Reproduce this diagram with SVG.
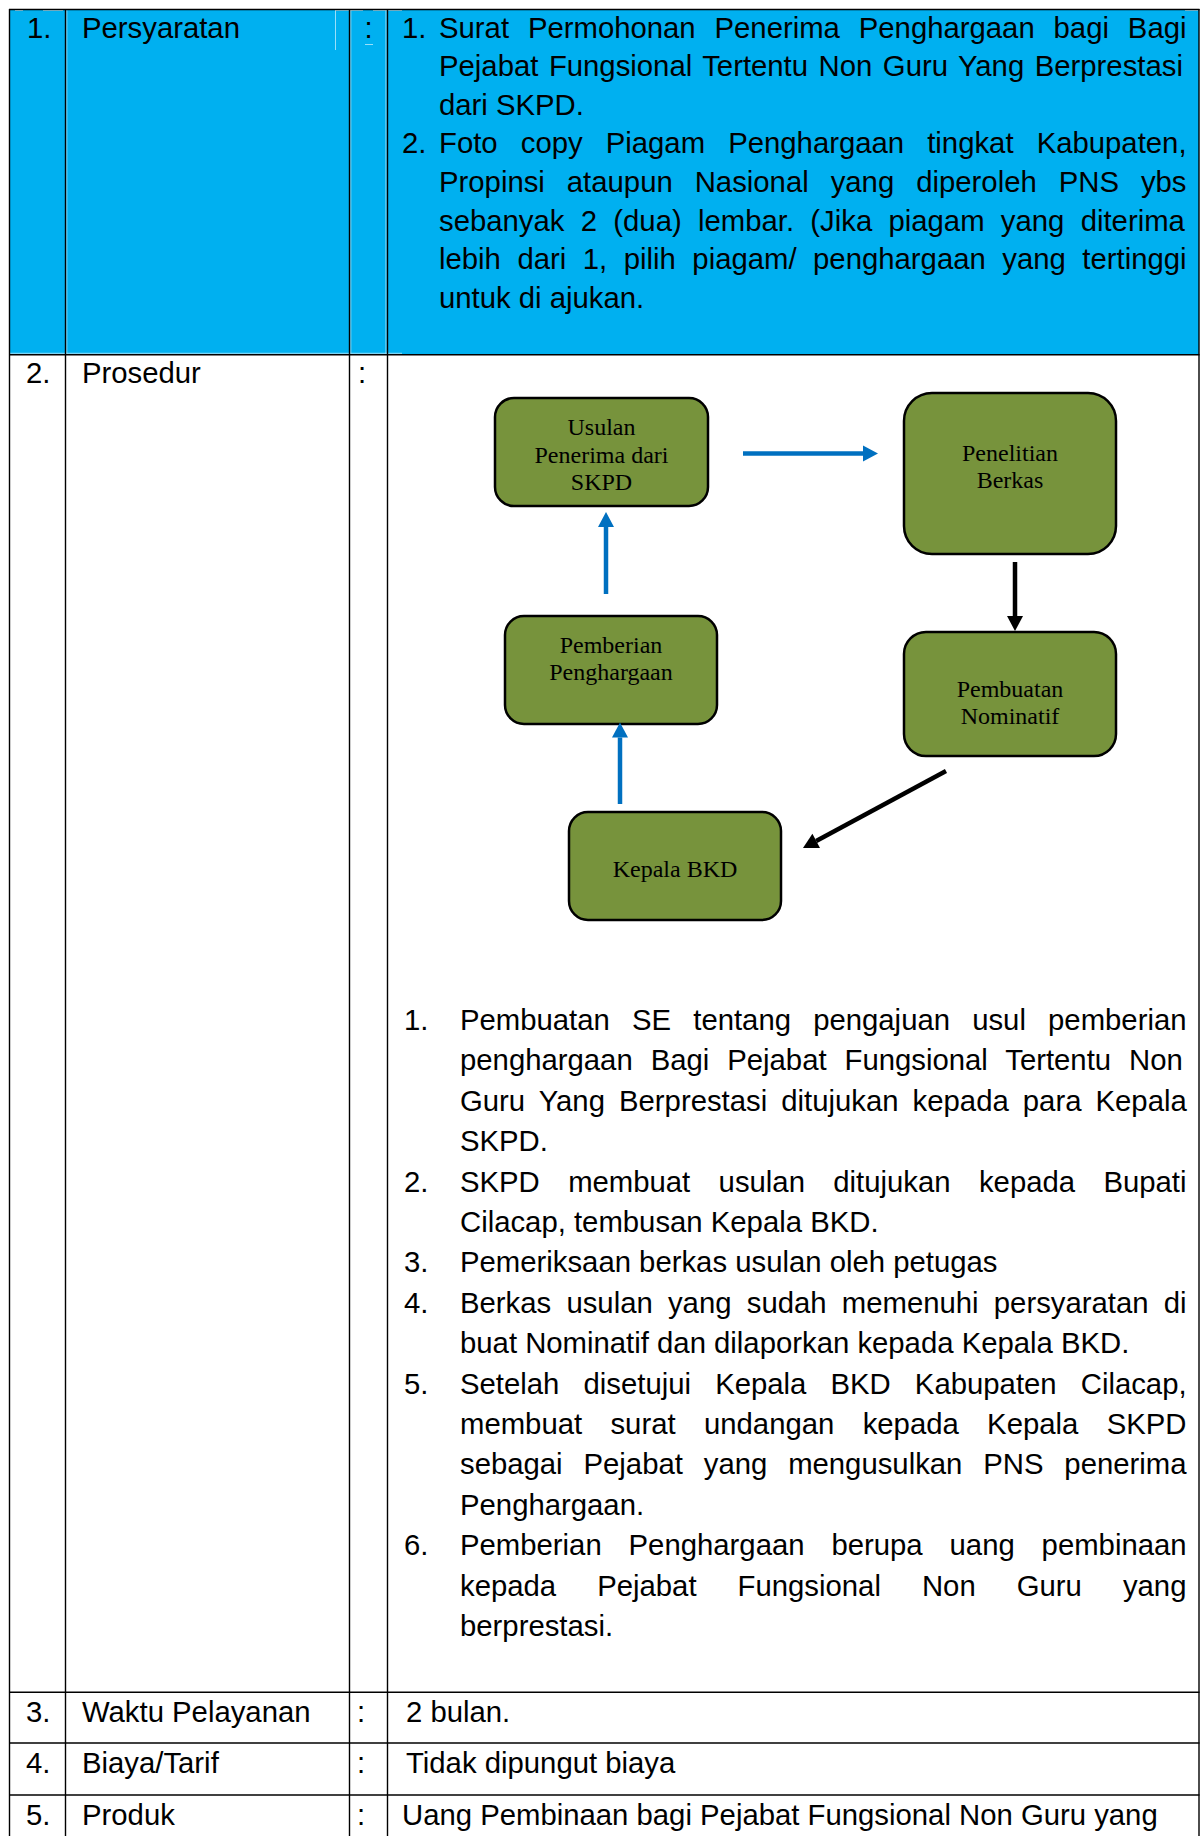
<svg xmlns="http://www.w3.org/2000/svg" width="1202" height="1836" viewBox="0 0 1202 1836">
  <defs>
    <style>
      .t { font-family: "Liberation Sans", Arial, sans-serif; font-size: 29.3px; fill: #000; }
      .grid { stroke: #000; stroke-width: 1.4; fill: none; }
      .gap { stroke: #ffffff; stroke-width: 1; opacity: 0.6; }
      .box { fill: #77933C; stroke: #000; stroke-width: 2.5; }
      .lbl { font-family: "Liberation Serif", "Times New Roman", serif; font-size: 24px; fill: #000; text-anchor: middle; }
      .blue { stroke: #0070C0; stroke-width: 4.5; fill: none; }
      .black { stroke: #000; stroke-width: 4.5; fill: none; }
    </style>
    <marker id="headBlue" markerUnits="userSpaceOnUse" markerWidth="18" markerHeight="18" viewBox="0 -9 16 18" refX="0" refY="0" orient="auto">
      <path d="M0,-8 L15,0 L0,8 Z" fill="#0070C0"/>
    </marker>
    <marker id="headBlack" markerUnits="userSpaceOnUse" markerWidth="18" markerHeight="18" viewBox="0 -9 16 18" refX="0" refY="0" orient="auto">
      <path d="M0,-8 L15,0 L0,8 Z" fill="#000"/>
    </marker>
  </defs>

  <rect width="1202" height="1836" fill="#ffffff"/>

  <!-- table: shaded first row, cell gaps and ruling -->
  <g id="table">
    <rect x="9.5" y="9.5" width="1189.5" height="345" fill="#00B0F0"/>
    <g id="shading-gaps">
      <line class="gap" x1="66.8" y1="10" x2="66.8" y2="353.5"/>
      <line class="gap" x1="335.5" y1="10" x2="335.5" y2="50"/>
      <line class="gap" x1="350.8" y1="10" x2="350.8" y2="353.5"/>
      <line class="gap" x1="386" y1="10" x2="386" y2="353.5"/>
      <line class="gap" x1="15" y1="10.5" x2="23" y2="10.5"/>
      <line class="gap" x1="43" y1="10.5" x2="63" y2="10.5"/>
      <line class="gap" x1="335" y1="10.5" x2="363" y2="10.5"/>
      <line class="gap" x1="373" y1="10.5" x2="402" y2="10.5"/>
      <line class="gap" x1="1185" y1="10.5" x2="1198" y2="10.5"/>
      <line class="gap" x1="365" y1="44.5" x2="373" y2="44.5"/>
      <line class="gap" x1="10" y1="353.3" x2="402" y2="353.3"/>
    </g>
    <g id="ruling">
      <line class="grid" x1="9" y1="9.5" x2="1199.5" y2="9.5"/>
      <line class="grid" x1="9" y1="354.8" x2="1199.5" y2="354.8"/>
      <line class="grid" x1="9" y1="1692.3" x2="1199.5" y2="1692.3"/>
      <line class="grid" x1="9" y1="1743" x2="1199.5" y2="1743"/>
      <line class="grid" x1="9" y1="1795" x2="1199.5" y2="1795"/>
      <line class="grid" x1="9.5" y1="9" x2="9.5" y2="1836"/>
      <line class="grid" x1="65.5" y1="9" x2="65.5" y2="1836"/>
      <line class="grid" x1="349.5" y1="9" x2="349.5" y2="1836"/>
      <line class="grid" x1="387.5" y1="9" x2="387.5" y2="1836"/>
      <line class="grid" x1="1199" y1="9" x2="1199" y2="1836"/>
    </g>
  </g>

  <!-- row 1: Persyaratan -->
  <g id="row-persyaratan">
    <text class="t" x="27" y="37.5">1.</text>
    <text class="t" x="82" y="37.5">Persyaratan</text>
    <text class="t" x="364.5" y="37.5">:</text>
    <text class="t" x="402" y="37.5">1.</text>
    <text class="t" x="439" y="37.5" style="word-spacing:10.73px">Surat Permohonan Penerima Penghargaan bagi Bagi</text>
    <text class="t" x="439" y="76.1" style="word-spacing:2.38px">Pejabat Fungsional Tertentu Non Guru Yang Berprestasi</text>
    <text class="t" x="439" y="114.7">dari SKPD.</text>
    <text class="t" x="402" y="153.3">2.</text>
    <text class="t" x="439" y="153.3" style="word-spacing:14.97px">Foto copy Piagam Penghargaan tingkat Kabupaten,</text>
    <text class="t" x="439" y="191.9" style="word-spacing:13.84px">Propinsi ataupun Nasional yang diperoleh PNS ybs</text>
    <text class="t" x="439" y="230.5" style="word-spacing:8.15px">sebanyak 2 (dua) lembar. (Jika piagam yang diterima</text>
    <text class="t" x="439" y="269.1" style="word-spacing:8.37px">lebih dari 1, pilih piagam/ penghargaan yang tertinggi</text>
    <text class="t" x="439" y="307.7">untuk di ajukan.</text>
  </g>

  <!-- row 2: Prosedur -->
  <g id="row-prosedur">
    <text class="t" x="26" y="383">2.</text>
    <text class="t" x="82" y="383">Prosedur</text>
    <text class="t" x="358" y="383">:</text>

    <text class="t" x="404" y="1030">1.</text>
    <text class="t" x="460" y="1030" style="word-spacing:14.02px">Pembuatan SE tentang pengajuan usul pemberian</text>
    <text class="t" x="460" y="1070.4" style="word-spacing:9.8px">penghargaan Bagi Pejabat Fungsional Tertentu Non</text>
    <text class="t" x="460" y="1110.8" style="word-spacing:5.94px">Guru Yang Berprestasi ditujukan kepada para Kepala</text>
    <text class="t" x="460" y="1151.2">SKPD.</text>
    <text class="t" x="404" y="1191.6">2.</text>
    <text class="t" x="460" y="1191.6" style="word-spacing:20.22px">SKPD membuat usulan ditujukan kepada Bupati</text>
    <text class="t" x="460" y="1232">Cilacap, tembusan Kepala BKD.</text>
    <text class="t" x="404" y="1272.4">3.</text>
    <text class="t" x="460" y="1272.4">Pemeriksaan berkas usulan oleh petugas</text>
    <text class="t" x="404" y="1312.8">4.</text>
    <text class="t" x="460" y="1312.8" style="word-spacing:7.09px">Berkas usulan yang sudah memenuhi persyaratan di</text>
    <text class="t" x="460" y="1353.2">buat Nominatif dan dilaporkan kepada Kepala BKD.</text>
    <text class="t" x="404" y="1393.6">5.</text>
    <text class="t" x="460" y="1393.6" style="word-spacing:16px">Setelah disetujui Kepala BKD Kabupaten Cilacap,</text>
    <text class="t" x="460" y="1434" style="word-spacing:20.21px">membuat surat undangan kepada Kepala SKPD</text>
    <text class="t" x="460" y="1474.4" style="word-spacing:12.73px">sebagai Pejabat yang mengusulkan PNS penerima</text>
    <text class="t" x="460" y="1514.8">Penghargaan.</text>
    <text class="t" x="404" y="1555.2">6.</text>
    <text class="t" x="460" y="1555.2" style="word-spacing:18.76px">Pemberian Penghargaan berupa uang pembinaan</text>
    <text class="t" x="460" y="1595.6" style="word-spacing:32.91px">kepada Pejabat Fungsional Non Guru yang</text>
    <text class="t" x="460" y="1636">berprestasi.</text>
  </g>

  <!-- rows 3 to 5 -->
  <g id="row-waktu">
    <text class="t" x="26" y="1722">3.</text>
    <text class="t" x="82" y="1722">Waktu Pelayanan</text>
    <text class="t" x="357" y="1722">:</text>
    <text class="t" x="406" y="1722">2 bulan.</text>
  </g>
  <g id="row-biaya">
    <text class="t" x="26" y="1773">4.</text>
    <text class="t" x="82" y="1773">Biaya/Tarif</text>
    <text class="t" x="357" y="1773">:</text>
    <text class="t" x="406" y="1773">Tidak dipungut biaya</text>
  </g>
  <g id="row-produk">
    <text class="t" x="26" y="1825">5.</text>
    <text class="t" x="82" y="1825">Produk</text>
    <text class="t" x="357" y="1825">:</text>
    <text class="t" x="402" y="1825">Uang Pembinaan bagi Pejabat Fungsional Non Guru yang</text>
  </g>

  <!-- flow chart -->
  <g id="node-usulan">
    <rect class="box" x="495" y="398" width="213" height="108" rx="19"/>
    <text class="lbl" x="601.5" y="435">Usulan</text>
    <text class="lbl" x="601.5" y="462.5">Penerima dari</text>
    <text class="lbl" x="601.5" y="490">SKPD</text>
  </g>
  <g id="node-penelitian">
    <rect class="box" x="904" y="393" width="212" height="161" rx="28"/>
    <text class="lbl" x="1010" y="460.5">Penelitian</text>
    <text class="lbl" x="1010" y="488">Berkas</text>
  </g>
  <g id="node-pemberian">
    <rect class="box" x="505" y="616" width="212" height="108" rx="19"/>
    <text class="lbl" x="611" y="652.5">Pemberian</text>
    <text class="lbl" x="611" y="680">Penghargaan</text>
  </g>
  <g id="node-pembuatan">
    <rect class="box" x="904" y="632" width="212" height="124" rx="22"/>
    <text class="lbl" x="1010" y="696.5">Pembuatan</text>
    <text class="lbl" x="1010" y="724">Nominatif</text>
  </g>
  <g id="node-kepala">
    <rect class="box" x="569" y="812" width="212" height="108" rx="19"/>
    <text class="lbl" x="675" y="877">Kepala BKD</text>
  </g>

  <g id="connectors">
    <line class="blue" x1="743" y1="453.5" x2="863" y2="453.5" marker-end="url(#headBlue)"/>
    <line class="black" x1="1015" y1="562" x2="1015" y2="616" marker-end="url(#headBlack)"/>
    <line class="black" x1="946" y1="771" x2="816.2" y2="840.9" marker-end="url(#headBlack)"/>
    <line class="blue" x1="620" y1="804" x2="620" y2="737.5" marker-end="url(#headBlue)"/>
    <line class="blue" x1="606" y1="594" x2="606" y2="527" marker-end="url(#headBlue)"/>
  </g>
</svg>
